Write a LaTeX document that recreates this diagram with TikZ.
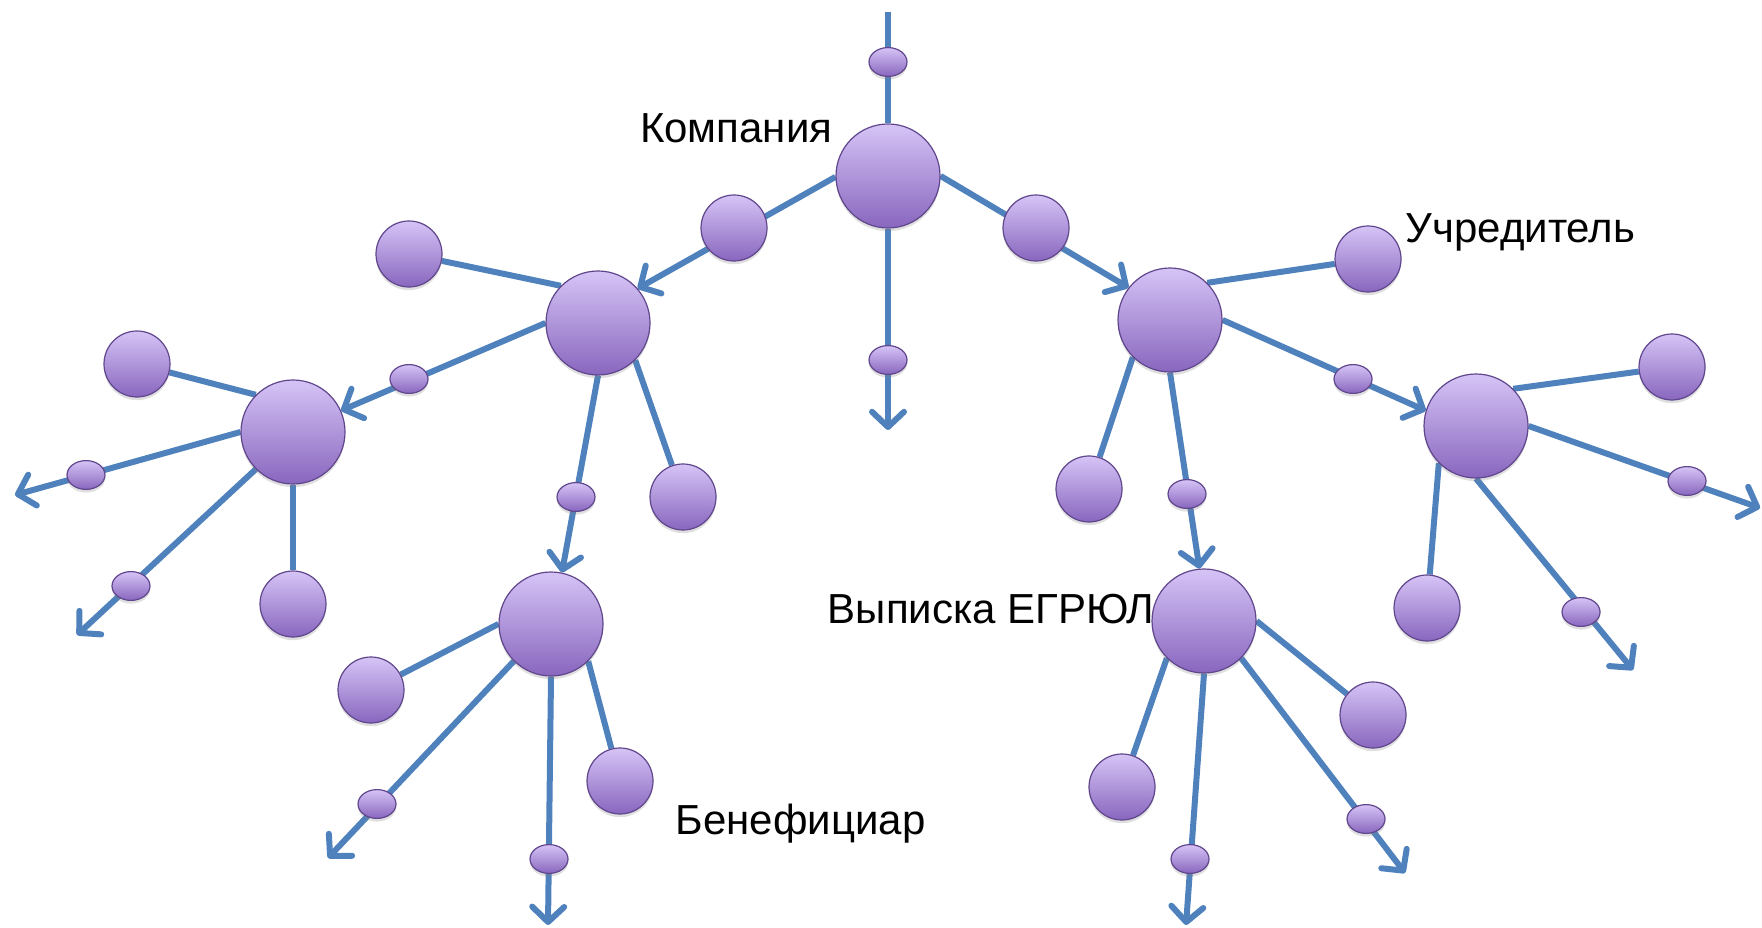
\documentclass[tikz,border=0pt]{standalone}
\usepackage{fontspec}
\setmainfont{Liberation Sans}
\usepackage{tikz}
\usetikzlibrary{arrows.meta,shapes.geometric,shadows}
\definecolor{linkblue}{RGB}{79,129,189}
\definecolor{balltop}{RGB}{214,196,246}
\definecolor{ballbottom}{RGB}{136,102,190}
\definecolor{ballrim}{RGB}{96,70,140}
\pgfdeclarelayer{background}
\pgfsetlayers{background,main}
\tikzset{ball/.style={
    % The shape:
    circle,
    inner sep=0pt,
    % The border:
    draw=ballrim,
    line width=0.3pt,
    % The filling:
    top color=balltop, % light at the top...
    bottom color=ballbottom, % and darker at the bottom
    drop shadow={opacity=0.25,shadow xshift=0pt,shadow yshift=-0.8pt},
    },
    hub/.style={
    ball,
    minimum size=26pt,
    },
    leaf/.style={
    ball,
    minimum size=16.5pt,
    },
    dot/.style={
    ball,
    ellipse,
    minimum width=9.5pt,
    minimum height=7.2pt,
    },
    link/.style={
    draw=linkblue,
    line width=1.5pt,
    },
    arrowlink/.style={
    link,
    -{Straight Barb[length=3.8pt,width=8pt,round]},
    },
    caption/.style={
    font=\fontsize{10.5}{12}\selectfont,
    inner sep=0pt,
    },
}

\begin{document}
\begin{tikzpicture}[x=0.25pt,y=-0.25pt]
    \useasboundingbox (0,0) rectangle (1762,928);

    % company in the middle
    \coordinate (top) at (888,12);
    \node (s0)  [dot]  at (888,62)   {};
    \node (C0)  [hub]  at (888,176)  {};
    \node (m1)  [leaf] at (734,228)  {};
    \node (m2)  [leaf] at (1036,228) {};
    \node (s1)  [dot]  at (888,360)  {};
    \coordinate (down) at (888,430);

    % left branch
    \node (L1)  [hub]  at (598,323) {};
    \node (a1)  [leaf] at (409,254) {};
    \node (a2)  [leaf] at (683,497) {};
    \node (s2)  [dot]  at (409,379) {};
    \node (s3)  [dot]  at (576,497) {};

    \node (L2)  [hub]  at (293,432) {};
    \node (a3)  [leaf] at (137,364) {};
    \node (a4)  [leaf] at (293,604) {};
    \node (s4)  [dot]  at (86,475)  {};
    \coordinate (e4) at (15,495);
    \node (s5)  [dot]  at (131,586) {};
    \coordinate (e5) at (77,635);

    \node (L3)  [hub]  at (551,624) {};
    \node (a5)  [leaf] at (371,690) {};
    \node (a6)  [leaf] at (620,781) {};
    \node (s6)  [dot]  at (377,804) {};
    \coordinate (e6) at (328,858);
    \node (s7)  [dot]  at (549,859) {};
    \coordinate (e7) at (548,925);

    % right branch
    \node (R1)  [hub]  at (1170,320) {};
    \node (b1)  [leaf] at (1368,259) {};
    \node (b2)  [leaf] at (1089,489) {};
    \node (s8)  [dot]  at (1353,379) {};
    \node (s9)  [dot]  at (1187,494) {};

    \node (R2)  [hub]  at (1476,426) {};
    \node (b3)  [leaf] at (1672,367) {};
    \node (b4)  [leaf] at (1427,608) {};
    \node (s10) [dot]  at (1687,481) {};
    \coordinate (e10) at (1760,508);
    \node (s11) [dot]  at (1581,612) {};
    \coordinate (e11) at (1633,670);

    \node (R3)  [hub]  at (1204,621) {};
    \node (b5)  [leaf] at (1373,715) {};
    \node (b6)  [leaf] at (1122,787) {};
    \node (s12) [dot]  at (1190,859) {};
    \coordinate (e12) at (1186,925);
    \node (s13) [dot]  at (1366,819) {};
    \coordinate (e13) at (1405,873);

    % labels
    \node (company)  [caption,anchor=base east] at (833,143) {Компания};
    \node (founder)  [caption,anchor=base west] at (1405,243) {Учредитель};
    \node (benefit)  [caption,anchor=base west] at (675,834) {Бенефициар};
    \node (extract)  [caption,anchor=base west] at (827,623) {Выписка ЕГРЮЛ};

    \begin{pgfonlayer}{background}
    \draw[link] (top) -- (C0.north);
    \draw[arrowlink] (C0.south) -- (down);
    \draw[arrowlink] (C0.181) -- (L1.41);
    \draw[arrowlink] (C0.east) -- (R1.142);

    \draw[link] (L1.135) -- (a1);
    \draw[link] (L1.315) -- (a2);
    \draw[arrowlink] (L1.west) -- (L2.24);
    \draw[arrowlink] (L1.south) -- (L3.78);

    \draw[link] (L2.135) -- (a3);
    \draw[link] (L2.south) -- (a4);
    \draw[arrowlink] (L2.west) -- (e4);
    \draw[arrowlink] (L2.225) -- (e5);

    \draw[link] (L3.west) -- (a5);
    \draw[link] (L3.315) -- (a6);
    \draw[arrowlink] (L3.225) -- (e6);
    \draw[arrowlink] (L3.south) -- (e7);

    \draw[link] (R1.45) -- (b1);
    \draw[link] (R1.225) -- (b2);
    \draw[arrowlink] (R1.east) -- (R2.163);
    \draw[arrowlink] (R1.south) -- (R3.95);

    \draw[link] (R2.45) -- (b3);
    \draw[link] (R2.225) -- (b4);
    \draw[arrowlink] (R2.east) -- (e10);
    \draw[arrowlink] (R2.south) -- (e11);

    \draw[link] (R3.east) -- (b5);
    \draw[link] (R3.225) -- (b6);
    \draw[arrowlink] (R3.south) -- (e12);
    \draw[arrowlink] (R3.315) -- (e13);
    \end{pgfonlayer}
\end{tikzpicture}
\end{document}
